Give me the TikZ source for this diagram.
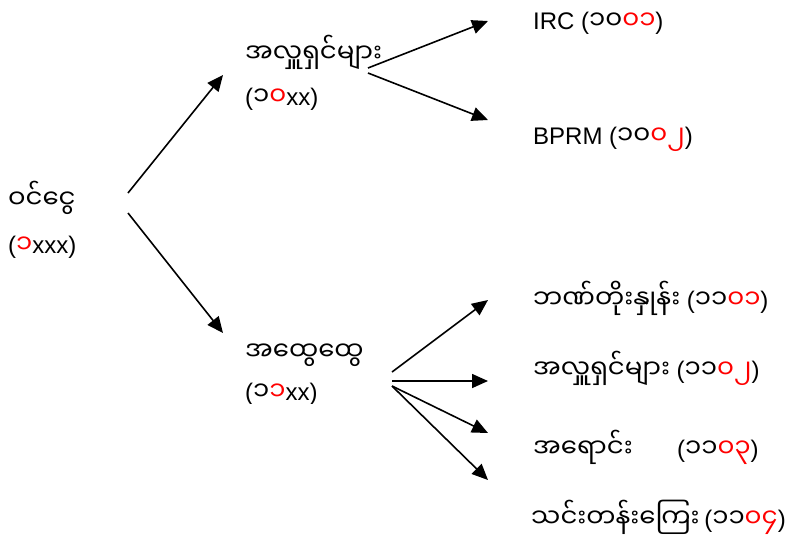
\documentclass[tikz,border=0pt]{standalone}
\usepackage{fontspec}
\setmainfont{Liberation Sans}
\newfontfamily\mmfont[Script=Myanmar]{Noto Sans Myanmar UI}
\usetikzlibrary{arrows.meta}
\definecolor{nred}{RGB}{255,0,0}
\newcommand\md[1]{{\mmfont\fontsize{26}{30}\selectfont #1}}
\newcommand\rd[1]{\textcolor{nred}{#1}}
\begin{document}
\begin{tikzpicture}[x=1pt,y=-1pt,
  lbl/.style={anchor=base west, inner sep=0pt, font=\fontsize{24}{28}\selectfont},
  arr/.style={-{Triangle[length=16pt,width=14pt]}, line width=1.6pt}]
\useasboundingbox[fill=white] (0,0) rectangle (785,542);
% texts
\node[lbl] (inc)  at (8,208) {\md{ဝင်ငွေ}};
\node[lbl] (incc) at (8,253) {(\md{\rd{၁}}xxx)};
\node[lbl] (don)  at (245,62) {\md{အလှူရှင်များ}};
\node[lbl] (donc) at (245,105) {(\md{၁\rd{၀}}xx)};
\node[lbl] (irc)  at (533,29) {IRC (\md{၁၀\rd{၀၁}})};
\node[lbl] (bprm) at (533,144) {BPRM (\md{၁၀\rd{၀၂}})};
\node[lbl] (gen)  at (245,360) {\md{အထွေထွေ}};
\begin{scope}
\clip (0,0) rectangle (785,403);
\node[lbl] (genc) at (245,400) {(\md{၁\rd{၁}}xx)};
\end{scope}
\node[lbl] (r1) at (533,308) {\md{ဘဏ်တိုးနှုန်း} (\md{၁၁\rd{၀၁}})};
\node[lbl] (r2) at (533,378) {\md{အလှူရှင်များ} (\md{၁၁\rd{၀၂}})};
\node[lbl] (r3) at (533,457) {\md{အရောင်း}};
\node[lbl] (r3c) at (677,457) {(\md{၁၁\rd{၀၃}})};
\node[lbl] (r4) at (531,527) {\md{သင်းတန်းကြေး}\hspace{-2pt} (\md{၁၁\rd{၀၄}})};
% connector ends
\coordinate (a1s) at (128,193); \coordinate (a1e) at (223,75);
\coordinate (a2s) at (128,213); \coordinate (a2e) at (223,333);
\coordinate (b1s) at (368,68);  \coordinate (b1e) at (488,21);
\coordinate (b2s) at (368,73);  \coordinate (b2e) at (488,120);
\coordinate (c1s) at (392,372); \coordinate (c1e) at (488,300);
\coordinate (c2s) at (392,381); \coordinate (c2e) at (488,381);
\coordinate (c3s) at (392,386); \coordinate (c3e) at (488,433);
\coordinate (c4e) at (488,480);
\draw[arr] (a1s) -- (a1e);
\draw[arr] (a2s) -- (a2e);
\draw[arr] (b1s) -- (b1e);
\draw[arr] (b2s) -- (b2e);
\draw[arr] (c1s) -- (c1e);
\draw[arr] (c2s) -- (c2e);
\draw[arr] (c3s) -- (c3e);
\draw[arr] (c3s) -- (c4e);
\end{tikzpicture}
\end{document}
